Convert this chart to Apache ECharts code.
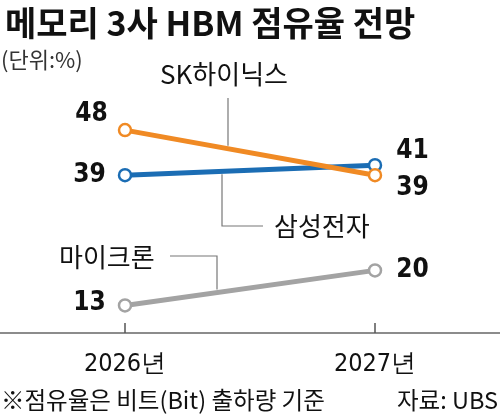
<!DOCTYPE html>
<html>
<head>
<meta charset="utf-8">
<script src="https://cdn.jsdelivr.net/npm/echarts@6/dist/echarts.min.js"></script>
<style>
  html, body { margin: 0; padding: 0; background: #fff; }
  #main { width: 500px; height: 418px; }
</style>
</head>
<body>
<div id="main"></div>
<script>
var years = ['2026년', '2027년'];
var hynix = [48, 39];
var samsung = [39, 41];
var micron = [13, 20];

var kr = '"Noto Sans CJK KR", sans-serif';
var num = '"DejaVu Sans Condensed", "Liberation Sans Narrow", "Liberation Sans", sans-serif';

var myChart = echarts.init(document.getElementById('main'));

function lbl(pos, dist, off) {
  return {
    show: true, position: pos, distance: dist, offset: off,
    fontFamily: num, fontSize: 26, fontWeight: 'bold', color: '#111'
  };
}

function series(name, data, color, labels) {
  return {
    name: name,
    type: 'line',
    data: data.map(function (v, i) { return { value: v, label: labels[i] }; }),
    symbol: 'circle',
    symbolSize: 12,
    itemStyle: { color: '#fff', borderColor: color, borderWidth: 2.5 },
    lineStyle: { color: color, width: 5 },
    animation: false
  };
}

var option = {
  title: {
    text: '메모리 3사 HBM 점유율 전망',
    left: 0, top: 1,
    textStyle: { fontFamily: kr, fontSize: 34, fontWeight: 'bold', color: '#111' }
  },
  grid: { left: 0, right: 0, top: 70, bottom: 85 },
  xAxis: {
    type: 'category',
    data: years,
    boundaryGap: true,
    axisLine: { lineStyle: { color: '#666', width: 1.5 } },
    axisTick: { show: true, inside: true, alignWithLabel: true, length: 10, lineStyle: { color: '#555', width: 1.5 } },
    axisLabel: { margin: 19, fontFamily: num, fontSize: 25, color: '#111' }
  },
  yAxis: {
    type: 'value', min: 7.5, max: 60,
    show: false, splitLine: { show: false }
  },
  series: [
    series('마이크론', micron, '#a3a3a3', [lbl('left', 12, [0, -2]), lbl('right', 14, [0, 0])]),
    series('삼성전자', samsung, '#1b6db4', [lbl('left', 12, [0, 0]), lbl('right', 14, [0, -14])]),
    series('SK하이닉스', hynix, '#f08a24', [lbl('left', 10, [0, -16]), lbl('right', 14, [0, 13])])
  ]
};

myChart.setOption(option);

// leader lines follow the drawn lines
function onLine(data, px) {
  var a = myChart.convertToPixel({ seriesIndex: 0 }, [0, data[0]]);
  var b = myChart.convertToPixel({ seriesIndex: 0 }, [1, data[1]]);
  return a[1] + (b[1] - a[1]) * (px - a[0]) / (b[0] - a[0]);
}

var hy = onLine(hynix, 228);
var sy = onLine(samsung, 222);
var my = onLine(micron, 217);
var lead = { stroke: '#777', lineWidth: 1.2 };
var txt = { fontFamily: kr, fontSize: 26, fill: '#111' };

myChart.setOption({
  graphic: [
    { type: 'text', left: 1, top: 49, style: { text: '(단위:%)', fontFamily: kr, fontSize: 22, fill: '#333' } },
    { type: 'text', left: 160, top: 61, style: Object.assign({ text: 'SK하이닉스' }, txt) },
    { type: 'polyline', shape: { points: [[228, 98], [228, hy - 3]] }, style: lead },
    { type: 'text', left: 274, top: 213, style: Object.assign({ text: '삼성전자', fontSize: 27 }, txt) },
    { type: 'polyline', shape: { points: [[222, sy + 3], [222, 226], [263, 226]] }, style: lead },
    { type: 'text', left: 59, top: 244, style: Object.assign({ text: '마이크론' }, txt) },
    { type: 'polyline', shape: { points: [[170, 256], [217, 256], [217, my - 3]] }, style: lead },
    { type: 'text', left: 1, top: 388, style: { text: '※점유율은 비트(Bit) 출하량 기준', fontFamily: kr, fontSize: 23.5, fill: '#111' } },
    { type: 'text', right: 2, top: 388, style: { text: '자료: UBS', fontFamily: kr, fontSize: 23.5, fill: '#111' } }
  ]
});
</script>
</body>
</html>
